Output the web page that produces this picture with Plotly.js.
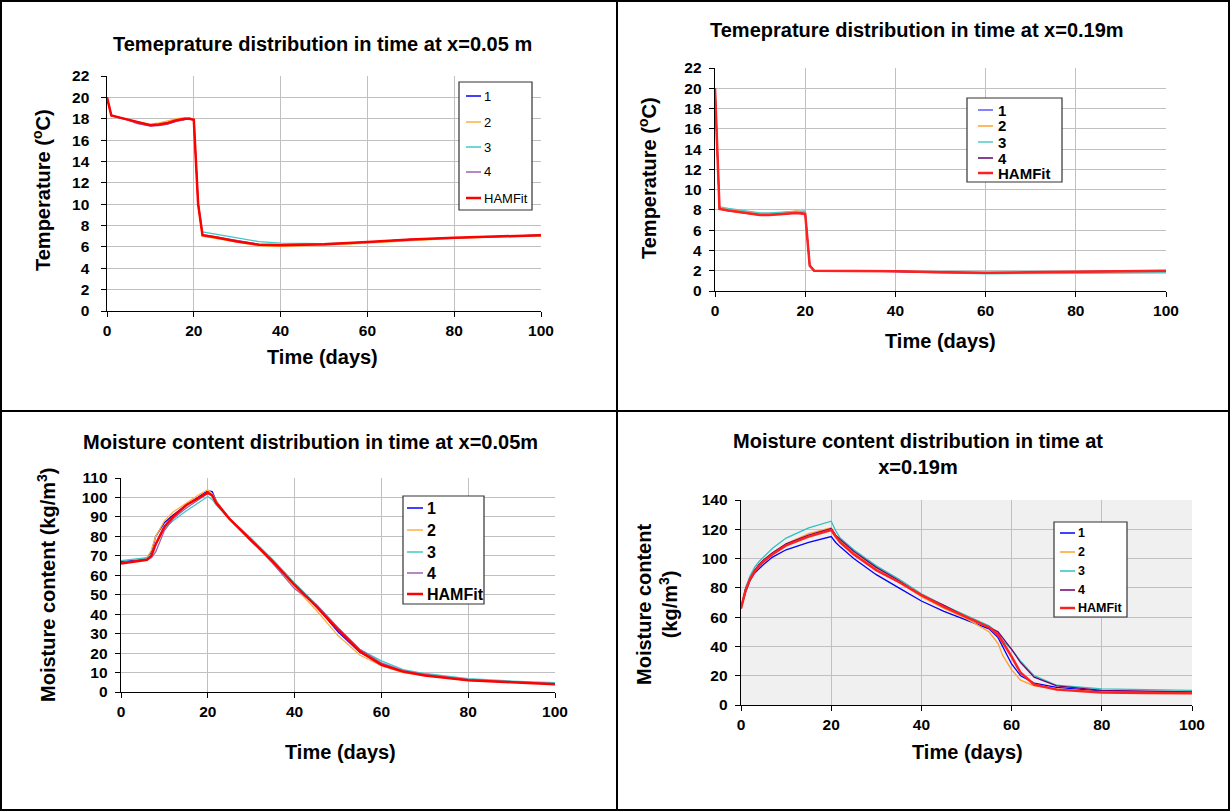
<!DOCTYPE html>
<html>
<head>
<meta charset="utf-8">
<script src="https://cdn.plot.ly/plotly-3.0.1.min.js"></script>
<style>
html,body{margin:0;padding:0;background:#fff;}
#chart{width:1230px;height:811px;}
</style>
</head>
<body>
<div id="chart"></div>
<script>
// ---------- DATA ----------
const seriesNames = ["1", "2", "3", "4", "HAMFit"];

// Panel 1: Temperature at x=0.05 m
const time1 = [0,1,3,5,7,10,12,14,16,18,19,20,21,22,25,30,35,40,45,50,60,70,80,90,100];
const temp1_s1 = [20,18.3,18.1,17.9,17.6,17.35,17.4,17.55,17.8,17.95,18.0,17.9,10,7.1,6.9,6.5,6.2,6.15,6.2,6.25,6.45,6.7,6.85,7.0,7.1];
const temp1_s2 = [20,18.3,18.1,17.9,17.7,17.5,17.6,17.8,18.0,18.1,18.1,17.9,10,7.0,6.8,6.4,6.1,6.05,6.1,6.15,6.35,6.6,6.8,6.95,7.0];
const temp1_s3 = [20,18.3,18.1,17.9,17.65,17.45,17.5,17.65,17.9,18.0,18.0,17.9,10.2,7.4,7.2,6.8,6.5,6.35,6.3,6.3,6.45,6.65,6.85,6.95,7.05];
const temp1_s4 = [20,18.3,18.05,17.85,17.55,17.3,17.35,17.5,17.75,17.95,18.0,17.9,10.1,7.15,6.95,6.55,6.25,6.2,6.2,6.25,6.45,6.7,6.85,7.0,7.1];
const temp1_ham = [20,18.3,18.1,17.9,17.65,17.4,17.45,17.6,17.85,18.0,18.0,17.9,10,7.1,6.9,6.5,6.2,6.15,6.2,6.25,6.45,6.7,6.85,7.0,7.1];

// Panel 2: Temperature at x=0.19 m
const time2 = [0,0.5,1,3,5,8,10,12,15,18,20,21,22,30,40,50,60,70,80,90,100];
const temp2_s1 = [20,14,8.15,8.0,7.85,7.7,7.6,7.6,7.65,7.75,7.7,2.5,2.0,2.0,1.95,1.85,1.75,1.8,1.85,1.9,1.9];
const temp2_s2 = [20,14,8.2,8.05,7.9,7.75,7.65,7.65,7.75,7.9,7.8,2.5,2.0,2.0,1.95,1.85,1.75,1.8,1.85,1.9,1.9];
const temp2_s3 = [20,14,8.3,8.15,8.0,7.8,7.7,7.7,7.75,7.85,7.9,2.6,2.0,2.0,1.95,1.8,1.7,1.72,1.75,1.78,1.8];
const temp2_s4 = [20,14,8.1,7.9,7.75,7.6,7.5,7.5,7.55,7.7,7.6,2.5,2.0,2.0,1.95,1.85,1.8,1.85,1.9,1.95,2.0];
const temp2_ham = [20,14,8.1,7.95,7.8,7.6,7.5,7.5,7.6,7.7,7.6,2.5,2.0,2.0,1.95,1.85,1.8,1.85,1.9,1.95,2.0];

// Panel 3: Moisture content at x=0.05 m
const time3 = [0,5,6,7,8,10,12,15,18,20,21,22,25,30,35,40,45,50,55,60,65,70,80,90,100];
const moist3_s1 = [67,68,69,72,80,87,91,96,100.5,103.5,103,98,89,77.5,67,55,44,31,20.5,14.5,10.5,8.5,6,5,4.2];
const moist3_s2 = [66.5,67.5,69,73,80,88,92.5,97,101.5,104,102,98,89,78,67,54,42,29,19,13.5,10,8.5,6,5,4.3];
const moist3_s3 = [67.5,68.5,69,71,76,84,88,93,97.5,100.5,99,96,89,79,68,56,45,33,22,16,11.5,9.5,6.8,5.6,4.8];
const moist3_s4 = [66.5,67.5,68,69,72,83,89,94.5,99,102,101.5,97,89,78,66,53,45,33,22,15,11,9,6.3,5.2,4.3];
const moist3_ham = [66,67.5,68,70,76,85,90,96,100,102.5,101,97,89,78,67,55,44,32,21,14,10.5,8.5,6,5,4];

// Panel 4: Moisture content at x=0.19 m
const time4 = [0,0.5,1,2,3,4,5,7,10,15,20,21,22,25,30,35,40,45,50,55,57,58,60,62,65,70,80,90,100];
const moist4_s1 = [66,72,77,85,90,93,96,101,106,111,115,111,108,100,89,80,71,64,58,52,46,40,28,20,15,12,9.5,9.2,9];
const moist4_s2 = [66,73.5,79,87,92,96,99,104,110,117,121,116,112,104,93,84,74,66,59,50,42,34,24,17,13,11,9,9,9];
const moist4_s3 = [66,74,80,88,94,98,101,107,114,121,125.5,119,114,106,95,86,76,68,61,54,49,44,38,30,20,13.5,11,10.5,10];
const moist4_s4 = [66,73.5,79,86,92,96,99,104,110,116,120.5,116,113,105,94,85,75,68,60,53,50,46,38,29,19,13,10,9.5,9];
const moist4_ham = [66,73,78,86,91,95,98,103,109,115,119.5,115,111,103,92,84,75,67,60,53,48,43,33,22,14,10.5,8.5,8.2,8];

const xTicks = [0,20,40,60,80,100];
const yTicks1 = [0,2,4,6,8,10,12,14,16,18,20,22];
const yTicks3 = [0,10,20,30,40,50,60,70,80,90,100,110];
const yTicks4 = [0,20,40,60,80,100,120,140];

// ---------- LAYOUT HELPERS ----------
const W = 1230, H = 811;
const px = v => v / W;
const py = v => 1 - v / H;
const FONT = "Liberation Sans, Arial, sans-serif";

const colorsA = ["#0000ff", "#ffb040", "#40c8c8", "#a060b0", "#ff0000"];
const colorsB = ["#5a5aff", "#ffa030", "#50c8c8", "#600070", "#ff2020"];
const colorsC = ["#0000ff", "#ffa030", "#30c0c0", "#700070", "#ff2020"];

function makeTraces(t, arrs, xa, ya, colors) {
  return arrs.map((y, i) => ({
    x: t, y: y, type: "scatter", mode: "lines",
    name: seriesNames[i], xaxis: xa, yaxis: ya, showlegend: false,
    line: {color: colors[i], width: i === 4 ? 2.5 : 1.3},
  }));
}

const data = [].concat(
  makeTraces(time1, [temp1_s1, temp1_s2, temp1_s3, temp1_s4, temp1_ham], "x", "y", colorsA),
  makeTraces(time2, [temp2_s1, temp2_s2, temp2_s3, temp2_s4, temp2_ham], "x2", "y2", colorsB),
  makeTraces(time3, [moist3_s1, moist3_s2, moist3_s3, moist3_s4, moist3_ham], "x3", "y3", colorsA),
  makeTraces(time4, [moist4_s1, moist4_s2, moist4_s3, moist4_s4, moist4_ham], "x4", "y4", colorsC)
);

const bold = (arr, pad) => arr.map(v => "<b>" + v + "</b>" + (pad || ""));

function xax(dom, anchor) {
  return {
    domain: [px(dom[0]), px(dom[1])], anchor: anchor, range: [0, 100],
    tickvals: xTicks, ticktext: bold(xTicks), ticks: "outside", ticklen: 5, tickcolor: "#000",
    showline: true, linecolor: "#000", linewidth: 1,
    showgrid: true, gridcolor: "#c0c0c0", gridwidth: 1, zeroline: false,
    tickfont: {family: FONT, size: 15.5, color: "#000"},
    fixedrange: true
  };
}
function yax(dom, anchor, range, ticks, pad) {
  return {
    domain: [py(dom[1]), py(dom[0])], anchor: anchor, range: range,
    tickvals: ticks, ticktext: bold(ticks, pad), ticks: "outside", ticklen: 5, tickcolor: "#000",
    showline: true, linecolor: "#000", linewidth: 1,
    showgrid: true, gridcolor: "#c0c0c0", gridwidth: 1, zeroline: false,
    tickfont: {family: FONT, size: 15.5, color: "#000"},
    fixedrange: true
  };
}

function ann(text, x, y, size, angle) {
  return {
    text: "<b>" + text + "</b>", x: px(x), y: py(y), xref: "paper", yref: "paper",
    xanchor: "center", yanchor: "middle", showarrow: false,
    textangle: angle || 0,
    font: {family: FONT, size: size, color: "#000"}
  };
}

// Legend boxes drawn with paper-positioned shapes & annotations
const shapes = [
  {type: "rect", xref: "paper", yref: "paper", x0: px(741), x1: px(1192), y0: py(705), y1: py(500),
   fillcolor: "#f0f0f0", line: {width: 0}, layer: "below"}
];
const annotations = [
  ann("Temeprature distribution in time at x=0.05 m", 323, 44, 20),
  ann("Temeprature distribution in time at x=0.19m", 917, 30, 20),
  ann("Moisture content distribution in time at x=0.05m", 310, 442, 20),
  ann("Moisture content distribution in time at<br>x=0.19m", 918, 454, 20),
  ann("Time (days)", 323, 357, 20),
  ann("Time (days)", 940, 341, 20),
  ann("Time (days)", 340, 752, 20),
  ann("Time (days)", 967, 752, 20),
  ann("Temperature (<sup>o</sup>C)", 41, 190, 20, -90),
  ann("Temperature (<sup>o</sup>C)", 648, 178, 20, -90),
  ann("Moisture content (kg/m<sup>3</sup>)", 46, 585, 20, -90),
  ann("Moisture content<br>(kg/m<sup>3</sup>)", 657, 605, 20, -90)
];

function addLegend(box, lineX, textX, rowsY, colors, size, isBold) {
  shapes.push({type: "rect", xref: "paper", yref: "paper",
    x0: px(box[0]), x1: px(box[1]), y0: py(box[3]), y1: py(box[2]),
    fillcolor: "#ffffff", line: {color: "#333", width: 1.2}});
  rowsY.forEach((ry, i) => {
    shapes.push({type: "line", xref: "paper", yref: "paper",
      x0: px(lineX[0]), x1: px(lineX[1]), y0: py(ry), y1: py(ry),
      line: {color: colors[i], width: i === 4 ? 2.5 : 1.5}});
    annotations.push({text: isBold ? "<b>" + seriesNames[i] + "</b>" : seriesNames[i],
      x: px(textX), y: py(ry), xref: "paper", yref: "paper",
      xanchor: "left", yanchor: "middle", showarrow: false,
      font: {family: FONT, size: size, color: "#000"}});
  });
}
addLegend([459, 532, 82, 210], [466, 481], 482, [96, 122, 147, 172, 198], colorsA, 13, false);
addLegend([967, 1062, 98, 182], [978, 993], 996, [110, 126, 142, 158, 173], colorsB, 15, true);
addLegend([403, 484, 496, 604], [407, 423], 425, [508, 530, 552, 573, 594], colorsA, 16, true);
addLegend([1054, 1127, 522, 617], [1060, 1075], 1076, [533, 552, 571, 590, 608], colorsC, 12.5, true);

// table borders
shapes.push(
  {type: "rect", xref: "paper", yref: "paper", x0: px(1), x1: px(1229), y0: py(810), y1: py(1),
   line: {color: "#000", width: 2}},
  {type: "line", xref: "paper", yref: "paper", x0: px(617), x1: px(617), y0: 0, y1: 1,
   line: {color: "#000", width: 2}},
  {type: "line", xref: "paper", yref: "paper", x0: 0, x1: 1, y0: py(411), y1: py(411),
   line: {color: "#000", width: 2}}
);

const layout = {
  width: W, height: H,
  margin: {l: 0, r: 0, t: 0, b: 0},
  paper_bgcolor: "#ffffff",
  plot_bgcolor: "rgba(0,0,0,0)",
  showlegend: false,
  xaxis: xax([107, 541], "y"),
  yaxis: yax([76, 311], "x", [0, 22], yTicks1, "\u00a0\u00a0"),
  xaxis2: xax([715, 1166], "y2"),
  yaxis2: yax([68, 291], "x2", [0, 22], yTicks1, "\u00a0"),
  xaxis3: xax([121, 555], "y3"),
  yaxis3: yax([478, 692], "x3", [0, 110], yTicks3, "\u00a0"),
  xaxis4: xax([741, 1192], "y4"),
  yaxis4: yax([500, 705], "x4", [0, 140], yTicks4, "\u00a0"),
  annotations: annotations,
  shapes: shapes
};

Plotly.newPlot("chart", data, layout, {displayModeBar: false, staticPlot: true});
</script>
</body>
</html>
